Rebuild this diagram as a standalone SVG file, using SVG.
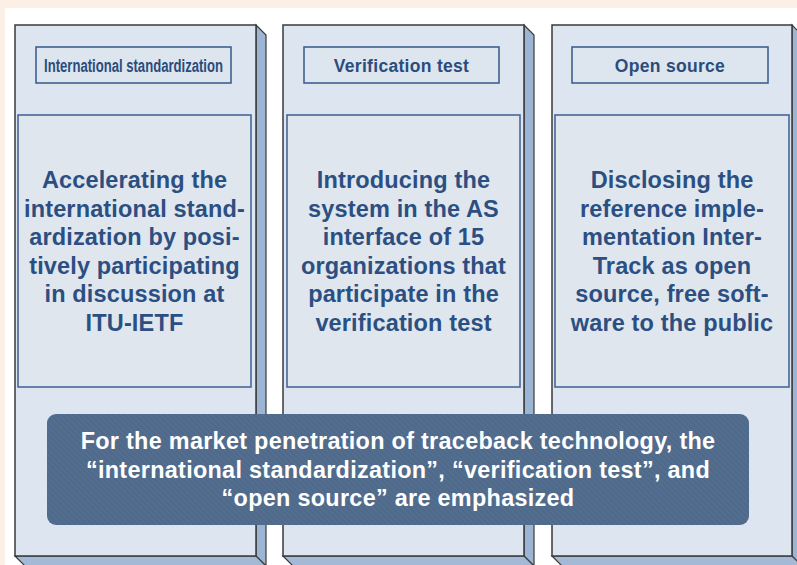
<svg xmlns="http://www.w3.org/2000/svg" width="797" height="565" viewBox="0 0 797 565">
  <style>
    .front { fill: #dce5f0; stroke: #3a3a3a; stroke-width: 1.5; }
    .side { fill: #9db5d5; stroke: #3a3a3a; stroke-width: 1.2; }
    .bottom { fill: #a3b9d6; stroke: #3a3a3a; stroke-width: 1.2; }
    .hdr { fill: #dde5ef; stroke: #3f6191; stroke-width: 1.6; }
    .inner { fill: #dfe6ee; stroke: #46679a; stroke-width: 1.6; }
    .hdrtxt { font-family: "Liberation Sans", Arial, sans-serif; font-weight: bold; font-size: 17.5px; fill: #2b4c7c; text-anchor: middle; letter-spacing: 0.3px; }
    .body { font-family: "Liberation Sans", Arial, sans-serif; font-weight: bold; font-size: 23.5px; fill: #2c4f82; text-anchor: middle; letter-spacing: 0.15px; }
    .banner { font-family: "Liberation Sans", Arial, sans-serif; font-weight: bold; font-size: 23.4px; fill: #ffffff; text-anchor: middle; letter-spacing: 0.3px; }
  </style>
  <defs>
    <pattern id="hatch" width="4" height="4" patternUnits="userSpaceOnUse" patternTransform="rotate(-45)">
      <rect width="4" height="4" fill="#4f6a8b"/>
      <line x1="0" y1="0" x2="0" y2="4" stroke="#587393" stroke-width="1.4"/>
    </pattern>
  </defs>

  <!-- page background -->
  <rect x="0" y="0" width="797" height="565" fill="#fcefe5"/>
  <rect x="5" y="8" width="792" height="557" fill="#ffffff"/>

  <!-- column 1 -->
  <g id="col-standardization">
    <polygon class="side" points="256,25 266,35 266,566 256,556"/>
    <polygon class="bottom" points="15,556 256,556 266,566 25,566"/>
    <rect class="front" x="15" y="25" width="241" height="531"/>
    <rect class="hdr" x="36" y="47" width="195" height="36"/>
    <text class="hdrtxt" x="133.5" y="72" textLength="179" lengthAdjust="spacingAndGlyphs" style="letter-spacing:0">International standardization</text>
    <rect class="inner" x="18" y="115" width="233" height="272"/>
    <text class="body" x="134.5" y="188">Accelerating the</text>
    <text class="body" x="134.5" y="216.5">international stand-</text>
    <text class="body" x="134.5" y="245">ardization by posi-</text>
    <text class="body" x="134.5" y="273.5">tively participating</text>
    <text class="body" x="134.5" y="302">in discussion at</text>
    <text class="body" x="134.5" y="330.5">ITU-IETF</text>
  </g>

  <!-- column 2 -->
  <g id="col-verification">
    <polygon class="side" points="524,25 534,35 534,566 524,556"/>
    <polygon class="bottom" points="283,556 524,556 534,566 293,566"/>
    <rect class="front" x="283" y="25" width="241" height="531"/>
    <rect class="hdr" x="304" y="47" width="195" height="36"/>
    <text class="hdrtxt" x="401.5" y="72">Verification test</text>
    <rect class="inner" x="287" y="115" width="233" height="272"/>
    <text class="body" x="403.5" y="188">Introducing the</text>
    <text class="body" x="403.5" y="216.5">system in the AS</text>
    <text class="body" x="403.5" y="245">interface of 15</text>
    <text class="body" x="403.5" y="273.5">organizations that</text>
    <text class="body" x="403.5" y="302">participate in the</text>
    <text class="body" x="403.5" y="330.5">verification test</text>
  </g>

  <!-- column 3 -->
  <g id="col-opensource">
    <polygon class="side" points="792,25 802,35 802,566 792,556"/>
    <polygon class="bottom" points="552,556 792,556 802,566 562,566"/>
    <rect class="front" x="552" y="25" width="240" height="531"/>
    <rect class="hdr" x="572" y="47" width="196" height="36"/>
    <text class="hdrtxt" x="670" y="72">Open source</text>
    <rect class="inner" x="555" y="115" width="234" height="272"/>
    <text class="body" x="672" y="188">Disclosing the</text>
    <text class="body" x="672" y="216.5">reference imple-</text>
    <text class="body" x="672" y="245">mentation Inter-</text>
    <text class="body" x="672" y="273.5">Track as open</text>
    <text class="body" x="672" y="302">source, free soft-</text>
    <text class="body" x="672" y="330.5">ware to the public</text>
  </g>

  <!-- summary banner across the columns -->
  <g id="summary">
    <rect x="47" y="414" width="702" height="111" rx="9" ry="9" fill="url(#hatch)"/>
    <text class="banner" x="398" y="449">For the market penetration of traceback technology, the</text>
    <text class="banner" x="398" y="477.5">“international standardization”, “verification test”, and</text>
    <text class="banner" x="398" y="506">“open source” are emphasized</text>
  </g>
</svg>
